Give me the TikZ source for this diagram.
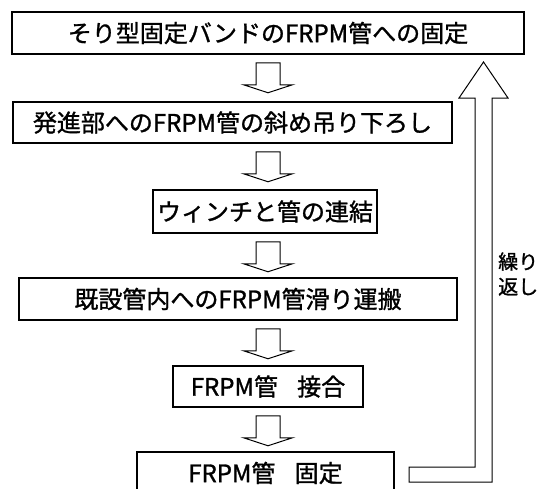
\documentclass[tikz,border=0pt]{standalone}
\usepackage{fontspec}
\setmainfont{Noto Sans CJK JP}[FakeBold=1.2, AutoFakeBold=1.2]
\begin{document}
\begin{tikzpicture}[x=1pt,y=-1pt,
  box/.style={draw, line width=1.5pt, inner sep=0pt, font=\fontsize{24}{28}\selectfont\bfseries},
  blockline/.style={draw, line width=1pt, line join=miter},
  down/.pic={\draw[blockline] (-12,0) -- (-12,22) -- (-24.5,22) -- (0,30) -- (24.5,22) -- (12,22) -- (12,0) -- cycle;}]
\clip (0,0) rectangle (551,488);
\coordinate (axis) at (268,0);
\node[box, minimum width=512pt, minimum height=42pt] (b1) at (268,33) {そり型固定バンドのFRPM管への固定};
\node[box, minimum width=439pt, minimum height=41pt] (b2) at (232.5,122.5) {発進部へのFRPM管の斜め吊り下ろし};
\node[box, minimum width=224pt, minimum height=43pt] (b3) at (265,211.5) {ウィンチと管の連結};
\node[box, minimum width=438pt, minimum height=42pt] (b4) at (238,299) {既設管内へのFRPM管滑り運搬};
\node[box, minimum width=190pt, minimum height=41pt] (b5) at (268,386.5) {FRPM管\hspace{0.8em}接合};
\node[box, minimum width=257pt, minimum height=42pt] (b6) at (265.5,473) {FRPM管\hspace{0.8em}固定};
\pic at ([yshift=-8pt]b1.south -| axis) {down};
\pic at ([yshift=-8pt]b2.south -| axis) {down};
\pic at ([yshift=-8pt]b3.south -| axis) {down};
\pic at ([yshift=-8pt]b4.south -| axis) {down};
\pic at ([yshift=-8pt]b5.south -| axis) {down};
\draw[blockline] (409,467) -- (475,467) -- (475,98) -- (459,98) -- (483.5,62) -- (508,98) -- (492,98) -- (492,482) -- (409,482) -- cycle;
\node[font=\fontsize{20}{25}\selectfont\bfseries, align=left, anchor=west, inner sep=0pt] (lbl) at (498,274) {繰り\\返し};
\end{tikzpicture}
\end{document}
